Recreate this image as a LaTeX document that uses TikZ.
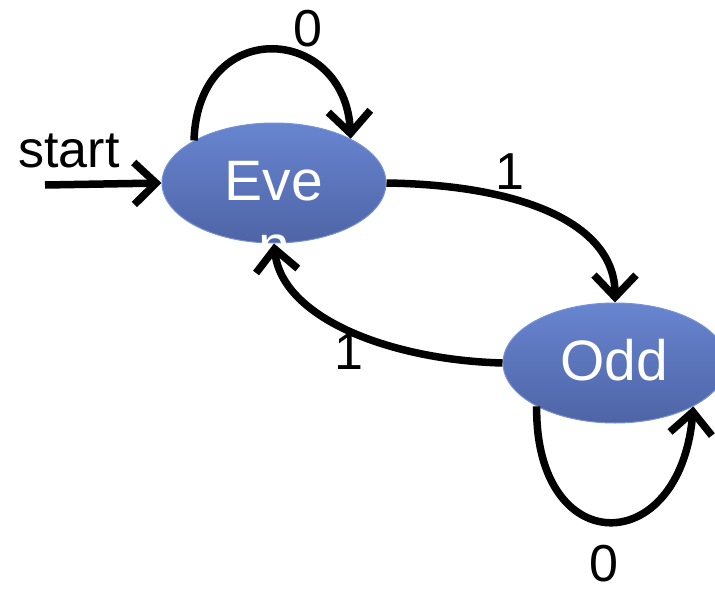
\documentclass[tikz,border=0pt]{standalone}
\usepackage{fontspec}
\setmainfont{Liberation Sans}
\usetikzlibrary{shapes.geometric,arrows.meta}

\definecolor{stateTop}{RGB}{104,133,208}
\definecolor{stateBottom}{RGB}{78,100,166}
\definecolor{stateEdge}{RGB}{118,146,214}

\tikzset{
  stateshape/.style={ellipse, minimum width=224pt, minimum height=120pt, inner sep=0pt,
    draw=stateEdge, line width=1pt, top color=stateTop, bottom color=stateBottom},
  statetext/.style={text=white, font=\fontsize{57}{65}\selectfont, anchor=base, inner sep=0pt},
  edgelabel/.style={font=\fontsize{52}{60}\selectfont, inner sep=0pt},
  trans/.style={line width=7.5pt, line cap=butt,
    -{Straight Barb[length=22pt,width=42pt,line width=7.5pt]}}
}

\begin{document}
\begin{tikzpicture}[x=1pt,y=-1pt]
  \useasboundingbox (0,0) rectangle (715,589);
  \clip (0,0) rectangle (715,589);

  % states
  \node[stateshape] (even) at (274,183) {};
  \node[stateshape] (odd)  at (615,363) {};
  \node[statetext] (evenA) at (274,200) {Eve};
  \node[statetext] (evenB) at (274,265) {n};
  \node[statetext] (oddA)  at (614,380) {Odd};

  % initial arrow
  \coordinate (init) at (45,185);
  \node[edgelabel, anchor=base] (startlbl) at (69,167) {start};
  \draw[trans] (init) -- (even.west);

  % self loop on Even
  \draw[trans] (even.152) .. controls (198,15) and (345,25) .. (even.30);
  \node[edgelabel] (l0a) at (308,29) {0};

  % Even -> Odd
  \draw[trans] (even.east) .. controls (525,185) and (615,225) .. (odd.north);
  \node[edgelabel] (l1a) at (510,172) {1};

  % Odd -> Even
  \node[edgelabel] (l1b) at (349,352) {1};
  \draw[trans] (odd.west) .. controls (390,360) and (282,318) .. (even.south);

  % self loop on Odd
  \draw[trans] (odd.209) .. controls (535,560) and (680,560) .. (odd.331);
  \node[edgelabel] (l0b) at (604,564) {0};
\end{tikzpicture}
\end{document}
